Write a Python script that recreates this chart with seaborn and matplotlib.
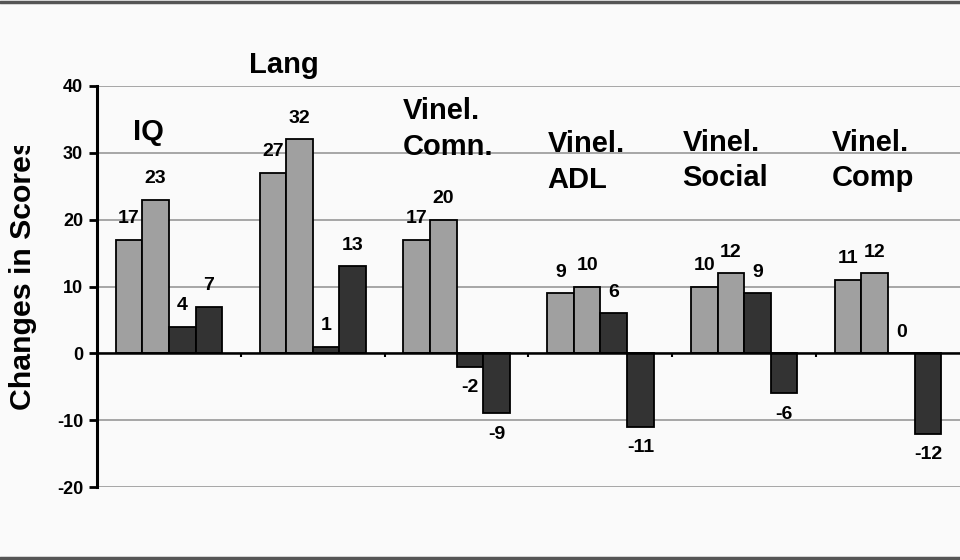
import matplotlib
matplotlib.use("Agg")
import matplotlib.pyplot as plt
import seaborn as sns
import pandas as pd
from matplotlib.lines import Line2D
from matplotlib.transforms import Bbox, TransformedBbox

# ---- data ----
groups = ["IQ", "Lang", "Vinel.\nComn.", "Vinel.\nADL", "Vinel.\nSocial", "Vinel.\nComp"]
series = ["S1", "S2", "S3", "S4"]
s1 = [17, 27, 17, 9, 10, 11]
s2 = [23, 32, 20, 10, 12, 12]
s3 = [4, 1, -2, 6, 9, 0]
s4 = [7, 13, -9, -11, -6, -12]
yticks = [-20, -10, 0, 10, 20, 30, 40]
ylabel = "Changes in Scores"

# ---- layout / style ----
light = "#a0a0a0"
dark = "#333333"
palette = {"S1": light, "S2": light, "S3": dark, "S4": dark}
label_dx = [-0.25, -0.444, -0.375, -0.368, -0.43, -0.39]
label_top = [35.2, 45.2, 38.3, 33.4, 33.6, 33.6]
bg = "#fafafa"

rows = []
for name, vals in zip(series, [s1, s2, s3, s4]):
    for g, v in zip(groups, vals):
        rows.append({"group": g, "series": name, "value": v})
df = pd.DataFrame(rows)

sns.set_theme(style="white")
plt.rcParams["font.family"] = ["Liberation Sans", "DejaVu Sans"]
plt.rcParams["font.weight"] = "bold"
plt.rcParams["text.color"] = "black"
plt.rcParams["ytick.color"] = "black"
plt.rcParams["xtick.color"] = "black"
plt.rcParams["ytick.labelcolor"] = "black"

fig = plt.figure(figsize=(9.6, 5.6), dpi=100, facecolor=bg)
ax = fig.add_axes([97 / 960, 1 - 487 / 560, 1 - 97 / 960, (487 - 86) / 560])
ax.set_facecolor(bg)

sns.barplot(data=df, x="group", y="value", hue="series", order=groups,
            hue_order=series, palette=palette, width=0.74, gap=0,
            edgecolor="black", linewidth=1.3, saturation=1, legend=False,
            errorbar=None, ax=ax, zorder=3)

ax.set_xlim(-0.5, len(groups) - 0.5)
ax.set_ylim(yticks[0], yticks[-1])
ax.set_yticks(yticks)
ax.set_yticklabels([str(t) for t in yticks], fontsize=13, fontweight="bold",
                   color="black")
ax.set_xticks([i + 0.5 for i in range(len(groups) - 1)])
ax.set_xticklabels([""] * (len(groups) - 1))
ax.set_xlabel("")
ax.set_ylabel("")

ax.yaxis.grid(True, color="#8f8f8f", linewidth=1.1, zorder=0)
ax.xaxis.grid(False)
ax.set_axisbelow(True)

for s in ["top", "right"]:
    ax.spines[s].set_visible(False)
ax.spines["left"].set_color("black")
ax.spines["left"].set_linewidth(2.2)
ax.spines["bottom"].set_position(("data", 0))
ax.spines["bottom"].set_color("black")
ax.spines["bottom"].set_linewidth(1.8)
ax.spines["bottom"].set_zorder(4)
ax.tick_params(axis="y", direction="out", length=6, width=2, color="black", pad=4,
               left=True)
ax.tick_params(axis="x", direction="out", length=3, width=1.5, color="black",
               bottom=True)

for c in ax.containers:
    ax.bar_label(c, fmt="%g", padding=9, fontsize=14, fontweight="bold",
                 color="black")

for i, g in enumerate(groups):
    ax.text(i + label_dx[i], label_top[i], g, ha="left", va="top",
            fontsize=21, fontweight="bold", linespacing=1.35, clip_on=False,
            color="black")

yl = fig.text(23 / 960, 1 - 274 / 560, ylabel, rotation=90, ha="center",
              va="center", fontsize=21.8, fontweight="bold", color="black")
yl.set_clip_box(TransformedBbox(Bbox([[0, 0], [1, 1 - 146 / 560]]), fig.transFigure))
yl.set_clip_on(True)

for yy in [1 - 1.5 / 560, 1 - 557.5 / 560]:
    fig.add_artist(Line2D([0, 1], [yy, yy], transform=fig.transFigure,
                          color="#555555", linewidth=2.5))

fig.savefig("out.png", dpi=100, facecolor=bg)
